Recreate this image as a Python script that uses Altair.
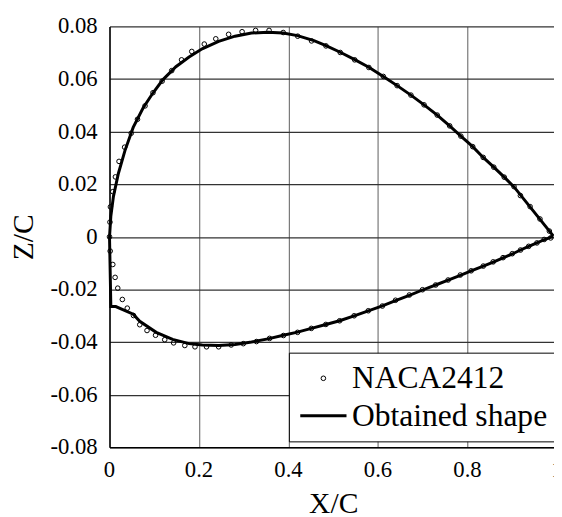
import altair as alt
import pandas as pd

# NACA2412 reference points (upper surface, leading edge -> trailing edge)
upper_x = [0.0, 0.001, 0.002, 0.0074, 0.0132, 0.0213, 0.0338, 0.0485, 0.0625, 0.0794,
           0.0971, 0.1176, 0.139, 0.161, 0.1838, 0.2118, 0.2375, 0.2662, 0.2963, 0.3265,
           0.3566, 0.3882, 0.4206, 0.4515, 0.4838, 0.5157, 0.548, 0.5796, 0.6119, 0.6428,
           0.6736, 0.703, 0.7324, 0.7602, 0.7852, 0.8117, 0.8352, 0.8588, 0.8822, 0.9041,
           0.9183, 0.94, 0.962, 0.983]
upper_z = [0.0, 0.0056, 0.0114, 0.0172, 0.0228, 0.0287, 0.0341, 0.0394, 0.0447, 0.0498,
           0.0548, 0.0592, 0.0632, 0.0673, 0.0705, 0.0733, 0.0753, 0.077, 0.078, 0.0785,
           0.0785, 0.0777, 0.0763, 0.0745, 0.0726, 0.0701, 0.0673, 0.0644, 0.061, 0.0575,
           0.0539, 0.0502, 0.0463, 0.0422, 0.0383, 0.0343, 0.0302, 0.0265, 0.0227, 0.0191,
           0.0157, 0.0115, 0.0068, 0.0022]
# NACA2412 reference points (lower surface)
lower_x = [0.0015, 0.0073, 0.0125, 0.0184, 0.0287, 0.0397, 0.0536, 0.0676, 0.0838, 0.1029,
           0.1234, 0.1433, 0.1683, 0.191, 0.2168, 0.2439, 0.2719, 0.299, 0.3284, 0.3578,
           0.3887, 0.4203, 0.4511, 0.4835, 0.5143, 0.5467, 0.5783, 0.6098, 0.6392, 0.6701,
           0.6995, 0.7289, 0.7568, 0.784, 0.8082, 0.8354, 0.8575, 0.8795, 0.9001, 0.9185,
           0.9368, 0.9552, 0.9714, 0.986]
lower_z = [-0.0054, -0.0105, -0.0154, -0.0195, -0.0238, -0.0271, -0.0299, -0.0334, -0.0356, -0.0374,
           -0.0391, -0.0403, -0.0413, -0.0418, -0.0418, -0.0418, -0.0411, -0.0406, -0.0398, -0.0386,
           -0.0375, -0.0363, -0.0348, -0.0333, -0.0319, -0.03, -0.0281, -0.0263, -0.0241, -0.0221,
           -0.0201, -0.0183, -0.0164, -0.0145, -0.0129, -0.0111, -0.0095, -0.0079, -0.0064, -0.005,
           -0.0036, -0.0023, -0.001, -0.0004]

# Obtained shape (closed path: trailing edge -> upper -> leading edge -> lower -> trailing edge)
shape_x = [0.992, 0.93, 0.9041, 0.8822, 0.8588, 0.8352, 0.8117, 0.7852, 0.7602, 0.7324,
           0.703, 0.6736, 0.6428, 0.6119, 0.5796, 0.548, 0.5157, 0.4838, 0.4569, 0.42,
           0.388, 0.354, 0.3173, 0.2806, 0.2439, 0.2071, 0.1778, 0.1484, 0.119, 0.097,
           0.075, 0.0529, 0.0345, 0.0198, 0.0088, 0.003, 0.0, 0.003, 0.014, 0.053,
           0.0676, 0.1043, 0.141, 0.1778, 0.2072, 0.2439, 0.2807, 0.3174, 0.3541, 0.3909,
           0.4203, 0.4511, 0.4835, 0.5143, 0.5467, 0.5783, 0.6098, 0.6392, 0.6701, 0.6995,
           0.7289, 0.7568, 0.784, 0.8082, 0.8354, 0.8575, 0.8795, 0.9001, 0.9185, 0.9368,
           0.9552, 0.9714, 0.992]
shape_z = [0.0003, 0.0135, 0.019, 0.0227, 0.0265, 0.0302, 0.0343, 0.0383, 0.0422, 0.0463,
           0.0502, 0.0539, 0.0575, 0.061, 0.0645, 0.0674, 0.0702, 0.0727, 0.0746, 0.0765,
           0.0775, 0.0778, 0.0775, 0.0763, 0.0743, 0.0715, 0.0684, 0.0647, 0.0597, 0.0547,
           0.049, 0.0416, 0.0328, 0.0241, 0.0154, 0.0079, 0.0, -0.0265, -0.0265, -0.0294,
           -0.0321, -0.0363, -0.039, -0.0406, -0.0411, -0.0413, -0.0409, -0.04, -0.0388, -0.0373,
           -0.0362, -0.0348, -0.0333, -0.0319, -0.03, -0.0281, -0.0262, -0.0242, -0.0222, -0.0202,
           -0.0183, -0.0164, -0.0146, -0.0129, -0.0111, -0.0096, -0.008, -0.0065, -0.005, -0.0036,
           -0.0023, -0.0011, 0.0003]

x_ticks = [0, 0.2, 0.4, 0.6, 0.8, 1]
x_tick_labels = ["0", "0.2", "0.4", "0.6", "0.8", "1"]
y_ticks = [-0.08, -0.06, -0.04, -0.02, 0, 0.02, 0.04, 0.06, 0.08]
y_tick_labels = ["-0.08", "-0.06", "-0.04", "-0.02", "0", "0.02", "0.04", "0.06", "0.08"]
series = ["NACA2412", "Obtained shape"]

pts = pd.DataFrame({
    "x": upper_x + lower_x,
    "z": upper_z + lower_z,
    "series": series[0],
})
line = pd.DataFrame({"x": shape_x, "z": shape_z, "order": list(range(len(shape_x)))})
xt = pd.DataFrame({"x": x_ticks, "label": x_tick_labels})
yt = pd.DataFrame({"z": y_ticks, "label": y_tick_labels})

FONT = "Liberation Serif"
W, H = 451, 427

common_axis = dict(labels=False,
                   titleFont=FONT, titleFontSize=30, titleColor="black", titleFontWeight="normal",
                   ticks=False, domainColor="black", domainWidth=1.5, gridWidth=1.2, gridOpacity=1)

x_enc = alt.X("x:Q", scale=alt.Scale(domain=[0, 1], range=[0, 454], nice=False),
              axis=alt.Axis(values=x_ticks, title="X/C",
                            gridColor="#777777", titlePadding=42, **common_axis))
y_enc = alt.Y("z:Q", scale=alt.Scale(domain=[-0.08, 0.08], nice=False),
              axis=alt.Axis(values=y_ticks, title="Z/C",
                            gridColor="#333333", titlePadding=72, **common_axis))

legend_kw = dict(title=None, orient="none", legendX=182, legendY=331,
                 fillColor="white", strokeColor="black", padding=10,
                 labelFont=FONT, labelFontSize=32, labelColor="black",
                 symbolSize=22, symbolOffset=9, labelOffset=13, rowPadding=6, labelLimit=400)

points = alt.Chart(pts).mark_point(filled=False, color="black", size=22, opacity=1).encode(
    x=x_enc,
    y=y_enc,
    shape=alt.Shape("series:N", scale=alt.Scale(domain=series, range=["circle", "M-10,0L10,0"]),
                    legend=alt.Legend(**legend_kw)),
    strokeWidth=alt.StrokeWidth("series:N", scale=alt.Scale(domain=series, range=[1, 3]),
                                legend=alt.Legend(**legend_kw)),
)

curve = alt.Chart(line).mark_line(color="black", strokeWidth=3).encode(
    x=alt.X("x:Q"),
    y=alt.Y("z:Q"),
    order="order:Q",
)

xlabels = alt.Chart(xt).mark_text(font=FONT, fontSize=23, color="black",
                                  align="center", baseline="top").encode(
    x=alt.X("x:Q"), y=alt.value(H + 12), text="label:N")
ylabels = alt.Chart(yt).mark_text(font=FONT, fontSize=23, color="black",
                                  align="right", baseline="middle").encode(
    y=alt.Y("z:Q"), x=alt.value(-12), text="label:N")

chart = alt.layer(points, curve, xlabels, ylabels).properties(
    width=W, height=H,
    autosize=alt.AutoSizeParams(type="none"),
    padding={"left": 103, "top": 15, "right": 0, "bottom": 66},
).configure_view(stroke=None)

chart.save("out.html", embed_options={"renderer": "svg", "actions": False})
